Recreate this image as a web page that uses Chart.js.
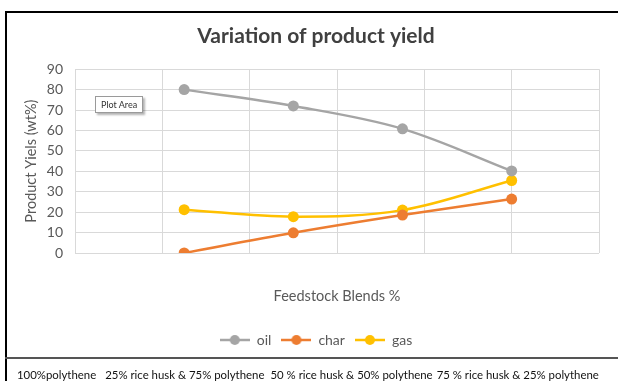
<!DOCTYPE html>
<html>
<head>
<meta charset="utf-8">
<title>Variation of product yield</title>
<script src="https://cdn.jsdelivr.net/npm/chart.js@4/dist/chart.umd.min.js"></script>
<style>
    html, body { margin: 0; padding: 0; background: #fff; }
    body { width: 618px; height: 381px; overflow: hidden; position: relative; font-family: Lato, sans-serif; }
    #chart { position: absolute; left: 0; top: 0; }
    .rule { position: absolute; }
    #footer { position: absolute; left: 17px; top: 368px; font-size: 11.4px; color: #111; white-space: pre; }
    #plotTip {
        position: absolute; left: 95px; top: 96px; padding: 2px 5px;
        font-size: 9px; color: #333; background: #fff;
        border: 1px solid #9a9a9a; box-shadow: 2px 2px 2px rgba(0,0,0,0.3);
    }
</style>
</head>
<body>
<canvas id="chart" width="626" height="381"></canvas>
<div class="rule" style="left:5px;top:11px;width:2px;height:370px;background:#000"></div>
<div class="rule" style="left:5px;top:11px;width:613px;height:2px;background:#000"></div>
<div class="rule" style="left:5px;top:357px;width:613px;height:2px;background:#555"></div>
<div id="plotTip">Plot Area</div>
<div id="footer"></div>

<script>
// blends, in the order they sit on the x axis
const categories = [
    '100%polythene',
    '25% rice husk & 75% polythene',
    '50 % rice husk & 50% polythene',
    '75 % rice husk & 25% polythene'
];
// where each blend was plotted on the (unlabelled) x axis
const xPositions = [1.25, 2.5, 3.75, 5];

const oilYield = [80, 72, 60.8, 40.2];
const charYield = [0, 9.9, 18.6, 26.4];
const gasYield = [21.2, 17.8, 21, 35.5];

const yTicks = [0, 10, 20, 30, 40, 50, 60, 70, 80, 90];

const seriesNames = ['oil', 'char', 'gas'];
const seriesColors = ['#A5A5A5', '#ED7D31', '#FFC000'];

const TEXT_GREY = '#595959';
const GRID_GREY = '#d9d9d9';

Chart.defaults.font.family = 'Lato, sans-serif';
Chart.defaults.color = TEXT_GREY;

// legend swatch: short line with a dot in the middle, like Excel
function makeSwatch(color) {
    const c = document.createElement('canvas');
    c.width = 30;
    c.height = 12;
    const ctx = c.getContext('2d');
    ctx.strokeStyle = color;
    ctx.lineWidth = 2.5;
    ctx.beginPath();
    ctx.moveTo(0, 6);
    ctx.lineTo(30, 6);
    ctx.stroke();
    ctx.fillStyle = color;
    ctx.beginPath();
    ctx.arc(15, 6, 5, 0, Math.PI * 2);
    ctx.fill();
    return c;
}

function toPoints(values) {
    return values.map((v, i) => ({ x: xPositions[i], y: v }));
}

const allValues = [oilYield, charYield, gasYield];
const datasets = allValues.map((values, i) => ({
    label: seriesNames[i],
    data: toPoints(values),
    borderColor: seriesColors[i],
    backgroundColor: seriesColors[i],
    pointBackgroundColor: seriesColors[i],
    pointBorderWidth: 0,
    pointRadius: 5.5,
    borderWidth: 2.5,
    tension: 0.35,
    fill: false
}));

const ctx = document.getElementById('chart');
new Chart(ctx, {
    type: 'line',
    data: { datasets: datasets },
    options: {
        responsive: false,
        animation: false,
        layout: { padding: { left: 8, right: 2, top: 13, bottom: 24 } },
        plugins: {
            title: {
                display: true,
                text: 'Variation of product yield',
                color: '#404040',
                font: { size: 21, weight: 'bold' },
                padding: { top: 11, bottom: 20 }
            },
            legend: {
                position: 'bottom',
                labels: {
                    usePointStyle: true,
                    pointStyleWidth: 30,
                    padding: 10,
                    color: TEXT_GREY,
                    font: { size: 14 },
                    generateLabels(chart) {
                        return chart.data.datasets.map((ds, i) => ({
                            text: ds.label,
                            pointStyle: makeSwatch(seriesColors[i]),
                            fillStyle: seriesColors[i],
                            strokeStyle: seriesColors[i],
                            lineWidth: 0,
                            fontColor: TEXT_GREY,
                            hidden: !chart.isDatasetVisible(i),
                            datasetIndex: i
                        }));
                    }
                }
            },
            tooltip: { enabled: false }
        },
        scales: {
            x: {
                type: 'linear',
                min: 0,
                max: 6,
                ticks: { display: false, stepSize: 1 },
                grid: { color: GRID_GREY, drawTicks: false },
                border: { display: false },
                title: {
                    display: true,
                    text: 'Feedstock Blends %',
                    color: TEXT_GREY,
                    font: { size: 14.5 },
                    padding: { top: 0, bottom: 18 }
                },
                afterFit(scale) { scale.height = 70; }
            },
            y: {
                min: yTicks[0],
                max: yTicks[yTicks.length - 1],
                afterBuildTicks(scale) {
                    scale.ticks = yTicks.map(v => ({ value: v }));
                },
                ticks: { color: TEXT_GREY, font: { size: 14 }, padding: 12 },
                grid: { color: GRID_GREY, drawTicks: false },
                border: { display: false },
                title: {
                    display: true,
                    text: 'Product Yiels (wt%)',
                    color: TEXT_GREY,
                    font: { size: 14.5 },
                    padding: { top: 15, bottom: 0 }
                },
                afterFit(scale) { scale.width = 67; }
            },
            // empty right-hand axis, only there to push the plot area in from the right
            spacer: {
                type: 'linear',
                position: 'right',
                display: true,
                ticks: { display: false },
                grid: { display: false, drawTicks: false },
                border: { display: false },
                afterFit(scale) { scale.width = 25; }
            }
        }
    }
});

// category names were typed under the chart frame in the original
const footer = document.getElementById('footer');
const gaps = [9, 6, 4, 0];
categories.forEach((name, i) => {
    const span = document.createElement('span');
    span.textContent = name;
    span.style.marginRight = gaps[i] + 'px';
    footer.appendChild(span);
});
</script>
</body>
</html>
